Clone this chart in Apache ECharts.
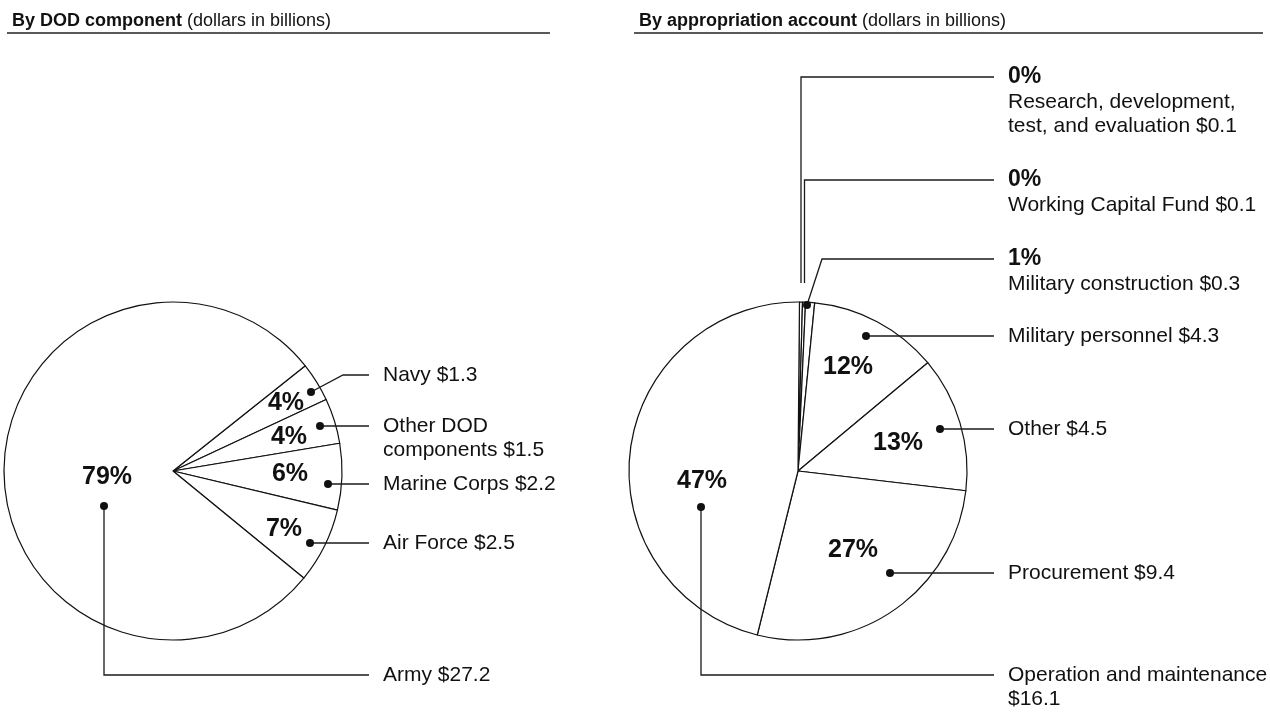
<!DOCTYPE html>
<html>
<head>
<meta charset="utf-8">
<title>DOD funding by component and by appropriation account</title>
<script src="https://cdn.jsdelivr.net/npm/echarts@6/dist/echarts.min.js"></script>
<style>
  html, body { margin: 0; padding: 0; background: #fff; }
  #chart { width: 1270px; height: 715px; }
</style>
</head>
<body>
<div id="chart"></div>
<script>
// left pie: by DOD component (dollars in billions)
var componentNames = ['Navy', 'Other DOD components', 'Marine Corps', 'Air Force', 'Army'];
var componentValues = [1.3, 1.5, 2.2, 2.5, 27.2];
var componentPercents = ['4%', '4%', '6%', '7%', '79%'];

// right pie: by appropriation account (dollars in billions)
var accountNames = [
  'Research, development, test, and evaluation',
  'Working Capital Fund',
  'Military construction',
  'Military personnel',
  'Other',
  'Procurement',
  'Operation and maintenance'
];
var accountValues = [0.1, 0.1, 0.3, 4.3, 4.5, 9.4, 16.1];
var accountPercents = ['0%', '0%', '1%', '12%', '13%', '27%', '47%'];

var FONT = '"Liberation Sans", Arial, Helvetica, sans-serif';
var INK = '#111';
var RADIUS = 169;
var leftCenter = [173, 471];
var rightCenter = [798, 471];
var LINE_END = 196;   // where the horizontal leaders stop, from the centre
var TEXT_X = 210;     // where the label column starts, from the centre

// placement of the callouts, in px from the pie centre
// pct = bold percent inside the slice, dot = start of the leader,
// bend = extra corners of the leader, row = y of the leader / first text line,
// wrap = number of words kept on the first line
var componentLayout = [
  { pct: [113, -68], dot: [138, -79], bend: [[170, -96]], row: -96 },
  { pct: [116, -34], dot: [147, -45], row: -45, wrap: 2 },
  { pct: [117, 3], dot: [155, 13], row: 13 },
  { pct: [111, 58], dot: [137, 72], row: 72 },
  { pct: [-66, 6], dot: [-69, 35], bend: [[-69, 204]], row: 204 }
];
var accountLayout = [
  { start: [3, -188], bend: [[3, -394]], row: -394, wrap: 2 },
  { start: [6.5, -188], bend: [[6.5, -291]], row: -291 },
  { dot: [9, -166], bend: [[24, -212]], row: -212 },
  { pct: [50, -104], dot: [68, -135], row: -135 },
  { pct: [100, -28], dot: [142, -42], row: -42 },
  { pct: [55, 79], dot: [92, 102], row: 102 },
  { pct: [-96, 10], dot: [-97, 36], bend: [[-97, 204]], row: 204, wrap: 3 }
];

function toData(names, values) {
  return names.map(function (n, i) { return { name: n, value: values[i] }; });
}

// white slices with the bold percentages inside
function sliceSeries(names, values, pcts, layout, center, startAngle) {
  return {
    type: 'pie',
    z: 1,
    center: center,
    radius: RADIUS,
    startAngle: startAngle,
    clockwise: true,
    silent: true,
    avoidLabelOverlap: false,
    emphasis: { disabled: true },
    itemStyle: { color: '#fff', borderColor: INK, borderWidth: 1.2 },
    label: {
      show: true,
      position: 'inside',
      fontFamily: FONT,
      fontSize: 25,
      fontWeight: 'bold',
      color: INK,
      formatter: function (p) {
        return layout[p.dataIndex].pct ? pcts[p.dataIndex] : '';
      }
    },
    labelLine: { show: false },
    labelLayout: function (p) {
      var lay = layout[p.dataIndex];
      if (!lay.pct) return {};
      return {
        x: center[0] + lay.pct[0],
        y: center[1] + lay.pct[1],
        align: 'center',
        verticalAlign: 'middle'
      };
    },
    data: toData(names, values)
  };
}

// transparent copy that carries the name/value callouts and leaders
function calloutSeries(names, values, pcts, layout, center, startAngle) {
  return {
    type: 'pie',
    z: 5,
    center: center,
    radius: RADIUS,
    startAngle: startAngle,
    clockwise: true,
    silent: true,
    avoidLabelOverlap: false,
    emphasis: { disabled: true },
    itemStyle: { color: 'rgba(0,0,0,0)', borderWidth: 0 },
    label: {
      show: true,
      position: 'outside',
      width: 300,
      color: INK,
      fontFamily: FONT,
      formatter: function (p) {
        var lay = layout[p.dataIndex];
        var words = (names[p.dataIndex] + ' $' + values[p.dataIndex].toFixed(1)).split(' ');
        var lines = lay.wrap
          ? [words.slice(0, lay.wrap).join(' '), words.slice(lay.wrap).join(' ')]
          : [words.join(' ')];
        var s = lines.map(function (l) { return '{t|' + l + '}'; }).join('\n');
        if (!lay.pct) s = '{p|' + pcts[p.dataIndex] + '}\n' + s;
        return s;
      },
      rich: {
        t: { fontFamily: FONT, fontSize: 21, lineHeight: 24, color: INK },
        p: { fontFamily: FONT, fontSize: 23, fontWeight: 'bold', lineHeight: 26, color: INK }
      }
    },
    labelLine: { show: true, lineStyle: { color: '#1a1a1a', width: 1.3 } },
    labelLayout: function (p) {
      var lay = layout[p.dataIndex];
      var cx = center[0], cy = center[1];
      var first = lay.dot || lay.start;
      var pts = [[cx + first[0], cy + first[1]]];
      (lay.bend || []).forEach(function (b) { pts.push([cx + b[0], cy + b[1]]); });
      pts.push([cx + LINE_END, cy + lay.row]);
      return {
        x: cx + TEXT_X,
        y: cy + lay.row - (lay.pct ? 12 : 13),
        align: 'left',
        verticalAlign: 'top',
        labelLinePoints: pts
      };
    },
    data: toData(names, values)
  };
}

function dots(layout, center) {
  return layout.filter(function (l) { return l.dot; }).map(function (l) {
    return {
      type: 'circle',
      z: 100,
      silent: true,
      shape: { cx: center[0] + l.dot[0], cy: center[1] + l.dot[1], r: 4 },
      style: { fill: INK }
    };
  });
}

var headRich = {
  b: { fontFamily: FONT, fontSize: 18, fontWeight: 'bold', color: INK },
  n: { fontFamily: FONT, fontSize: 18, fontWeight: 'normal', color: INK }
};

var chart = echarts.init(document.getElementById('chart'));
chart.setOption({
  animation: false,
  backgroundColor: '#fff',
  title: [
    { left: 7, top: 7, text: '{b|By DOD component} {n|(dollars in billions)}', textStyle: { fontWeight: 'normal', rich: headRich } },
    { left: 634, top: 7, text: '{b|By appropriation account} {n|(dollars in billions)}', textStyle: { fontWeight: 'normal', rich: headRich } }
  ],
  graphic: [
    { type: 'line', silent: true, shape: { x1: 7, y1: 33, x2: 550, y2: 33 }, style: { stroke: '#222', lineWidth: 1.5 } },
    { type: 'line', silent: true, shape: { x1: 634, y1: 33, x2: 1263, y2: 33 }, style: { stroke: '#222', lineWidth: 1.5 } }
  ].concat(dots(componentLayout, leftCenter), dots(accountLayout, rightCenter)),
  series: [
    sliceSeries(componentNames, componentValues, componentPercents, componentLayout, leftCenter, 38.5),
    calloutSeries(componentNames, componentValues, componentPercents, componentLayout, leftCenter, 38.5),
    sliceSeries(accountNames, accountValues, accountPercents, accountLayout, rightCenter, 89.5),
    calloutSeries(accountNames, accountValues, accountPercents, accountLayout, rightCenter, 89.5)
  ]
});
window.addEventListener('resize', function () { chart.resize(); });
</script>
</body>
</html>
